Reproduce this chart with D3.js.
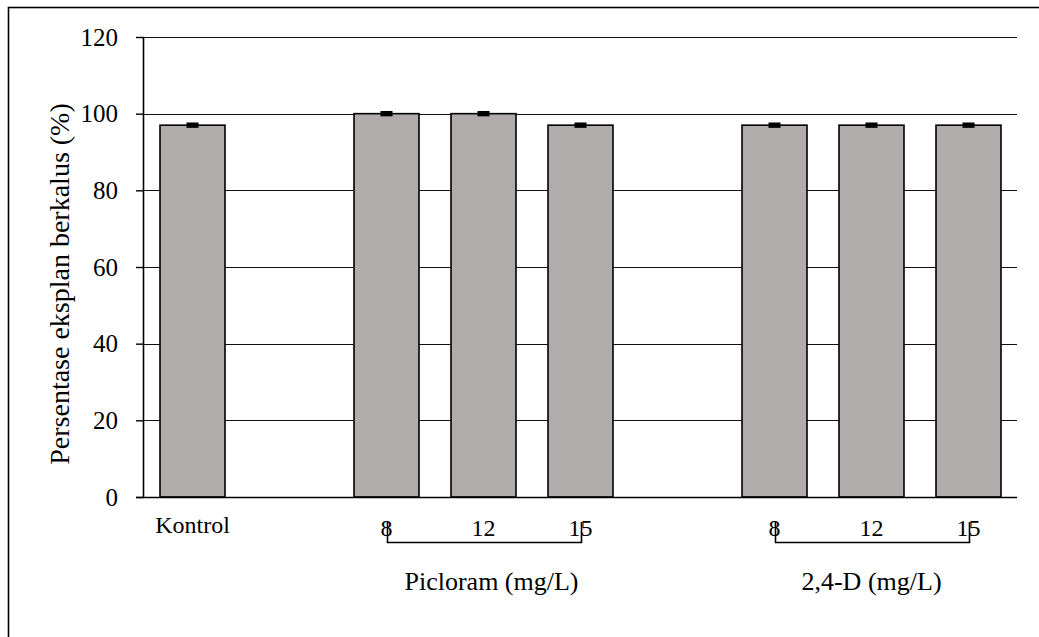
<!DOCTYPE html>
<html>
<head>
<meta charset="utf-8">
<script src="https://cdn.jsdelivr.net/npm/d3@7"></script>
<style>
  html, body { margin: 0; padding: 0; background: #fff; }
  svg { display: block; font-family: "Liberation Serif", "Times New Roman", serif; }
</style>
</head>
<body>
<svg id="chart" width="1039" height="637"></svg>
<script>
// Treatment categories, in plotting order
const categories = ["Kontrol", "Picloram 8", "Picloram 12", "Picloram 15", "2,4-D 8", "2,4-D 12", "2,4-D 15"];
// Label printed under each bar
const tickLabels = ["Kontrol", "8", "12", "15", "8", "12", "15"];
// Percentage of explants forming callus
const values = [97, 100, 100, 97, 97, 97, 97];
// Standard error of each mean
const errors = [0.7, 0.7, 0.7, 0.7, 0.7, 0.7, 0.7];
// Band slots: blank entries leave a gap between treatment groups
const slots = ["Kontrol", "", "Picloram 8", "Picloram 12", "Picloram 15", " ", "2,4-D 8", "2,4-D 12", "2,4-D 15"];
// Group brackets: label, first, middle and last member
const groupNames = ["Picloram (mg/L)", "2,4-D (mg/L)"];
const groupStart = ["Picloram 8", "2,4-D 8"];
const groupMid = ["Picloram 12", "2,4-D 12"];
const groupEnd = ["Picloram 15", "2,4-D 15"];
// Y axis ticks
const yTicks = [0, 20, 40, 60, 80, 100, 120];
const yTitle = "Persentase eksplan berkalus (%)";

const svg = d3.select("#chart");
const plotLeft = 144, plotRight = 1017, plotTop = 37, plotBottom = 497;

const x = d3.scaleBand().domain(slots).range([plotLeft, plotRight]).paddingInner(0.33).paddingOuter(0.165);
const y = d3.scaleLinear().domain([0, 120]).range([plotBottom, plotTop]);

// Outer frame
svg.append("rect")
  .attr("x", 8.5).attr("y", 7.5).attr("width", 1100).attr("height", 700)
  .attr("fill", "none").attr("stroke", "#000").attr("stroke-width", 1.6);

// Horizontal gridlines
svg.append("g")
  .selectAll("line").data(yTicks.filter(d => d > 0)).join("line")
  .attr("x1", plotLeft).attr("x2", plotRight)
  .attr("y1", d => Math.round(y(d)) + 0.5).attr("y2", d => Math.round(y(d)) + 0.5)
  .attr("stroke", "#111").attr("stroke-width", 1.2);

// Y axis
const yAxis = svg.append("g")
  .attr("transform", `translate(${plotLeft},0)`)
  .call(d3.axisLeft(y).tickValues(yTicks).tickSize(8).tickPadding(18).tickFormat(d3.format("d")));
yAxis.select(".domain").attr("stroke", "#000").attr("stroke-width", 1.6).attr("d", `M-0.5,${plotTop}V${plotBottom}`);
yAxis.selectAll(".tick line").attr("stroke", "#000").attr("stroke-width", 1.4);
yAxis.selectAll(".tick text")
  .attr("font-family", "Liberation Serif, Times New Roman, serif")
  .attr("font-size", 25).attr("fill", "#000");

// Bars
const cx = d => x(d) + x.bandwidth() / 2;
svg.append("g")
  .selectAll("rect").data(categories).join("rect")
  .attr("x", d => x(d))
  .attr("y", (d, i) => y(values[i]))
  .attr("width", x.bandwidth())
  .attr("height", (d, i) => y(0) - y(values[i]))
  .attr("fill", "#b0acab").attr("stroke", "#000").attr("stroke-width", 1.6);

// Error bars
svg.append("g")
  .selectAll("rect").data(categories).join("rect")
  .attr("x", d => cx(d) - 6)
  .attr("y", (d, i) => y(values[i] + errors[i]))
  .attr("width", 12)
  .attr("height", (d, i) => y(values[i] - errors[i]) - y(values[i] + errors[i]))
  .attr("fill", "#000");

// X axis baseline
svg.append("line")
  .attr("x1", plotLeft - 8).attr("x2", plotRight)
  .attr("y1", plotBottom + 0.5).attr("y2", plotBottom + 0.5)
  .attr("stroke", "#000").attr("stroke-width", 1.6);

// Category labels
svg.append("g")
  .selectAll("text").data(categories).join("text")
  .attr("x", cx)
  .attr("y", (d, i) => i === 0 ? 533 : 536)
  .attr("text-anchor", "middle")
  .attr("font-size", 24)
  .attr("fill", "#000")
  .text((d, i) => tickLabels[i]);

// Group brackets
const brackets = svg.append("g");
groupNames.forEach((g, i) => {
  const x0 = Math.round(cx(groupStart[i])) + 0.5, x1 = Math.round(cx(groupEnd[i])) + 0.5;
  brackets.append("path")
    .attr("d", `M${x0},522V542.5H${x1}V522`)
    .attr("fill", "none").attr("stroke", "#000").attr("stroke-width", 1.6);
  brackets.append("text")
    .attr("x", cx(groupMid[i]) + (i === 0 ? 8 : 0)).attr("y", 590)
    .attr("text-anchor", "middle").attr("font-size", 26).attr("fill", "#000")
    .text(g);
});

// Y axis title
svg.append("text")
  .attr("transform", "translate(69,284) rotate(-90)")
  .attr("text-anchor", "middle").attr("font-size", 28).attr("fill", "#000")
  .text(yTitle);
</script>
</body>
</html>
